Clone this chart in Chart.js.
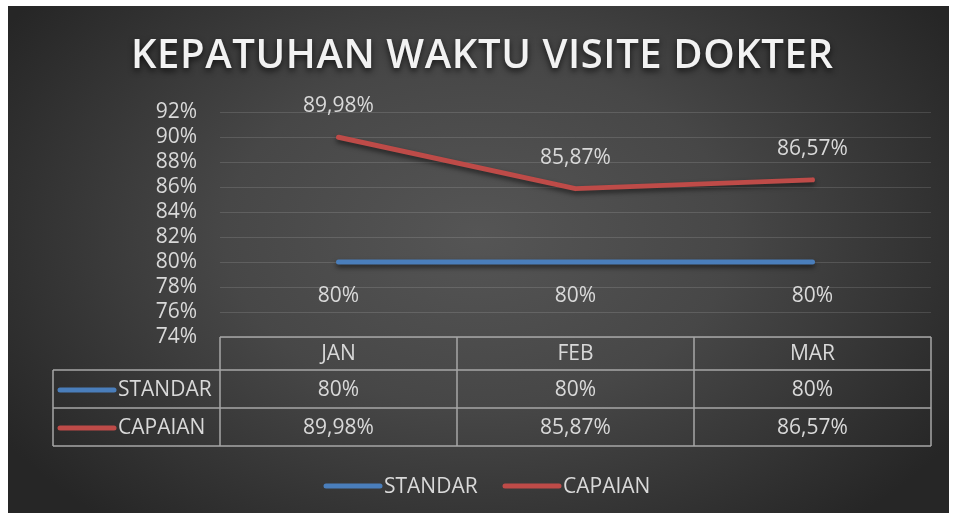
<!DOCTYPE html>
<html>
<head>
<meta charset="utf-8">
<script src="https://cdn.jsdelivr.net/npm/chart.js@4/dist/chart.umd.min.js"></script>
<style>
  html, body { margin: 0; padding: 0; background: #fff; }
  #bg {
    position: absolute; left: 8px; top: 6px; width: 941px; height: 507px;
    background: radial-gradient(ellipse 60% 75% at 50% 45%, #555555 0%, #474747 45%, #2f2f2f 85%, #262626 100%);
  }
  #myChart { position: absolute; left: 0; top: 0; }
</style>
</head>
<body>
<div id="bg"></div>
<canvas id="myChart" width="953" height="518"></canvas>
<script>
const categories = ["JAN", "FEB", "MAR"]
const standar = [0.80, 0.80, 0.80]
const capaian = [0.8998, 0.8587, 0.8657]
const seriesNames = ["STANDAR", "CAPAIAN"]
const seriesColors = ["#4a7ebb", "#be4b48"]
const yMin = 0.74
const yMax = 0.92
const yStep = 0.02

const FONT = "'Open Sans', sans-serif"
const TEXT = "#d9d9d9"

function pct(v) {
  const p = Math.round(v * 10000) / 100
  if (Number.isInteger(p)) return p + "%"
  return p.toFixed(2).replace(".", ",") + "%"
}

const lineShadow = {
  id: "lineShadow",
  beforeDatasetsDraw(chart) {
    const ctx = chart.ctx
    ctx.save()
    ctx.shadowColor = "rgba(0,0,0,0.55)"
    ctx.shadowBlur = 5
    ctx.shadowOffsetY = 3
  },
  afterDatasetsDraw(chart) {
    chart.ctx.restore()
  },
}

const extras = {
  id: "extras",
  afterDraw(chart) {
    const ctx = chart.ctx
    const area = chart.chartArea
    const x = chart.scales.x
    const y = chart.scales.y

    // title
    ctx.save()
    ctx.font = "600 40px " + FONT
    ctx.fillStyle = "#f2f2f2"
    ctx.textBaseline = "middle"
    ctx.textAlign = "left"
    const title = "KEPATUHAN WAKTU VISITE DOKTER"
    const plainW = ctx.measureText(title).width
    const targetW = 702
    const spacing = (targetW - plainW) / (title.length - 1)
    ctx.shadowColor = "rgba(0,0,0,0.7)"
    ctx.shadowBlur = 6
    ctx.shadowOffsetY = 3
    let tx = 482 - targetW / 2
    for (const ch of title) {
      ctx.fillText(ch, tx, 57)
      tx += ctx.measureText(ch).width + spacing
    }
    ctx.restore()

    // data labels
    ctx.save()
    ctx.font = "21px " + FONT
    ctx.fillStyle = TEXT
    ctx.textAlign = "center"
    ctx.textBaseline = "middle"
    categories.forEach((c, i) => {
      const px = x.getPixelForValue(i)
      ctx.fillText(pct(capaian[i]), px, y.getPixelForValue(capaian[i]) - 31)
      ctx.fillText(pct(standar[i]), px, y.getPixelForValue(standar[i]) + 34)
    })
    ctx.restore()

    // data table
    const colW = (area.right - area.left) / categories.length
    const top = area.bottom
    const rows = [top, top + 33, top + 71, top + 109]
    const leftEdge = 53
    ctx.save()
    ctx.strokeStyle = "#a6a6a6"
    ctx.lineWidth = 1.5
    ctx.beginPath()
    ctx.moveTo(area.left, rows[0]); ctx.lineTo(area.right, rows[0])
    for (let r = 1; r < rows.length; r++) {
      ctx.moveTo(leftEdge, rows[r]); ctx.lineTo(area.right, rows[r])
    }
    for (let i = 0; i <= categories.length; i++) {
      const cx = area.left + i * colW
      ctx.moveTo(cx, rows[0]); ctx.lineTo(cx, rows[3])
    }
    ctx.moveTo(leftEdge, rows[1]); ctx.lineTo(leftEdge, rows[3])
    ctx.stroke()

    ctx.font = "21px " + FONT
    ctx.fillStyle = TEXT
    ctx.textAlign = "center"
    ctx.textBaseline = "middle"
    const seriesData = [standar, capaian]
    categories.forEach((c, i) => {
      const px = x.getPixelForValue(i)
      ctx.fillText(c, px, (rows[0] + rows[1]) / 2 + 1)
      seriesData.forEach((d, s) => {
        ctx.fillText(pct(d[i]), px, (rows[s + 1] + rows[s + 2]) / 2 + 1)
      })
    })

    // legend keys inside the table
    seriesNames.forEach((name, s) => {
      const cy = (rows[s + 1] + rows[s + 2]) / 2 + 1
      drawKey(ctx, 60, 114, cy, seriesColors[s])
      ctx.fillStyle = TEXT
      ctx.textAlign = "left"
      ctx.fillText(name, 118, cy)
    })

    // bottom legend
    ctx.textAlign = "left"
    const lx = [326, 505]
    seriesNames.forEach((name, s) => {
      drawKey(ctx, lx[s], lx[s] + 54, 486, seriesColors[s])
      ctx.fillStyle = TEXT
      ctx.fillText(name, lx[s] + 58, 487)
    })
    ctx.restore()
  },
}

function drawKey(ctx, x1, x2, cy, color) {
  ctx.save()
  ctx.strokeStyle = color
  ctx.lineWidth = 5
  ctx.lineCap = "round"
  ctx.beginPath()
  ctx.moveTo(x1, cy)
  ctx.lineTo(x2, cy)
  ctx.stroke()
  ctx.restore()
}

const ctx = document.querySelector("#myChart")
new Chart(ctx, {
  type: "line",
  data: {
    labels: categories,
    datasets: [
      {
        label: seriesNames[0],
        data: standar,
        borderColor: seriesColors[0],
        borderWidth: 5,
        borderCapStyle: "round",
        pointRadius: 0,
        tension: 0,
      },
      {
        label: seriesNames[1],
        data: capaian,
        borderColor: seriesColors[1],
        borderWidth: 5,
        borderCapStyle: "round",
        borderJoinStyle: "round",
        pointRadius: 0,
        tension: 0,
      },
    ],
  },
  options: {
    responsive: false,
    animation: false,
    layout: {
      padding: { top: 112, bottom: 181, left: 0, right: 22 },
    },
    plugins: {
      legend: { display: false },
      tooltip: { enabled: false },
    },
    scales: {
      x: {
        display: false,
        offset: true,
      },
      y: {
        min: yMin,
        max: yMax,
        afterFit(scale) {
          scale.width = 220
        },
        border: { display: false },
        grid: {
          color: "rgba(255,255,255,0.13)",
          lineWidth: 1,
          drawTicks: false,
        },
        ticks: {
          stepSize: yStep,
          autoSkip: false,
          padding: 23,
          color: TEXT,
          font: { family: "Open Sans", size: 21 },
          callback: (v) => Math.round(v * 100) + "%",
        },
      },
    },
  },
  plugins: [lineShadow, extras],
})
</script>
</body>
</html>
